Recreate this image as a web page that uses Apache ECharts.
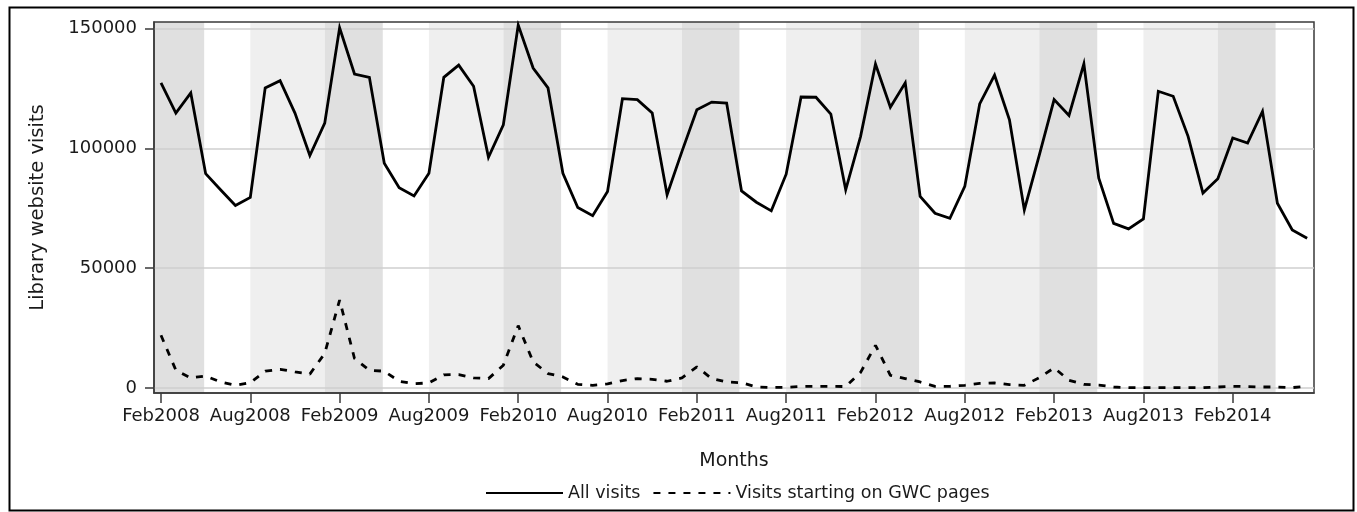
<!DOCTYPE html>
<html><head><meta charset="utf-8">
<script src="https://cdn.jsdelivr.net/npm/echarts@6/dist/echarts.min.js"></script>
<style>html,body{margin:0;padding:0;background:#fff}#c{width:1357px;height:512px}</style>
</head><body><div id="c"></div>
<script>
// Month categories (index 0 = Feb2008)
const months = [
 'Feb2008','Mar2008','Apr2008','May2008','Jun2008','Jul2008','Aug2008','Sep2008','Oct2008','Nov2008','Dec2008',
 'Jan2009','Feb2009','Mar2009','Apr2009','May2009','Jun2009','Jul2009','Aug2009','Sep2009','Oct2009','Nov2009','Dec2009',
 'Jan2010','Feb2010','Mar2010','Apr2010','May2010','Jun2010','Jul2010','Aug2010','Sep2010','Oct2010','Nov2010','Dec2010',
 'Jan2011','Feb2011','Mar2011','Apr2011','May2011','Jun2011','Jul2011','Aug2011','Sep2011','Oct2011','Nov2011','Dec2011',
 'Jan2012','Feb2012','Mar2012','Apr2012','May2012','Jun2012','Jul2012','Aug2012','Sep2012','Oct2012','Nov2012','Dec2012',
 'Jan2013','Feb2013','Mar2013','Apr2013','May2013','Jun2013','Jul2013','Aug2013','Sep2013','Oct2013','Nov2013','Dec2013',
 'Jan2014','Feb2014','Mar2014','Apr2014','May2014','Jun2014','Jul2014'
];
const allVisits = [
 127300,114700,123100,89400,82700,76100,79500,125200,128200,114700,97000,
 110500,150300,131000,129600,93800,83600,80100,89600,129600,134700,125900,96200,
 109800,151400,133500,125200,89600,75300,71900,82000,120700,120300,114700,80600,
 98700,116100,119300,118900,82200,77500,73900,89200,121400,121300,114300,82700,
 105000,135200,117100,127300,79900,72900,70800,84100,118500,130500,111900,74300,
 97000,120300,113700,135200,87500,68700,66400,70500,123800,121700,105000,81300,
 87300,104300,102200,115400,77100,65900,62500
];
const gwcVisits = [
 22000,7400,4200,5000,2500,1100,2200,7000,7800,6700,5800,
 14400,36700,12300,7400,7000,2800,1800,2100,5500,5600,4200,3900,
 9500,26000,10900,6000,4600,1500,1100,1700,3100,3900,3600,2800,
 4200,8800,3900,2500,2200,400,200,300,600,700,700,600,
 6500,17800,5300,3900,2500,700,700,1100,1900,2100,1400,1100,
 4300,8400,3200,1500,1200,400,150,150,150,150,150,150,
 400,700,600,400,400,150,700
];
const tickLabels = ['Feb2008','Aug2008','Feb2009','Aug2009','Feb2010','Aug2010','Feb2011','Aug2011','Feb2012','Aug2012','Feb2013','Aug2013','Feb2014'];
const yTicks = [0, 50000, 100000, 150000];
// Semester bands in month-index units (start, end, kind)
const bandStart = [-1, 6, 11, 18, 23, 30, 35, 42, 47, 54, 59, 66, 71];
const bandEnd   = [2.9, 11, 14.9, 23, 26.88, 35, 38.86, 47, 50.93, 59, 62.9, 71, 74.88];
const bandKind  = ['spring','fall','spring','fall','spring','fall','spring','fall','spring','fall','spring','fall','spring'];

const FONT = 'DejaVu Sans';
const TXT = '#1a1a1a';
const AX = '#3a3a3a';
const tickIdx = tickLabels.map(l => months.indexOf(l));
const bandColor = {spring: '#e0e0e0', fall: '#efefef'};

const chart = echarts.init(document.getElementById('c'), null, {renderer: 'canvas'});
chart.setOption({
  animation: false,
  backgroundColor: '#ffffff',
  textStyle: {fontFamily: FONT},
  grid: {left: 154, right: 43, top: 22, bottom: 119, show: true, borderColor: AX, borderWidth: 1.5,
         backgroundColor: 'transparent', outerBoundsMode: 'none', containLabel: false},
  xAxis: {
    type: 'value', min: -0.47, max: 77.46,
    name: 'Months', nameLocation: 'middle', nameGap: 59,
    nameTextStyle: {fontSize: 19, color: TXT, fontFamily: FONT},
    axisLine: {show: true, onZero: false, lineStyle: {color: AX, width: 1.5}},
    axisTick: {show: true, customValues: tickIdx, length: 10, lineStyle: {color: AX, width: 1.5}},
    axisLabel: {customValues: tickIdx, formatter: v => months[Math.round(v)], fontSize: 18, color: TXT, margin: 14, fontFamily: FONT},
    splitLine: {show: false}
  },
  yAxis: {
    type: 'value', min: -2100, max: 152700,
    name: 'Library website visits', nameLocation: 'middle', nameGap: 106,
    nameTextStyle: {fontSize: 19.5, color: TXT, fontFamily: FONT},
    axisLine: {show: true, onZero: false, lineStyle: {color: AX, width: 1.5}},
    axisTick: {show: true, customValues: yTicks, length: 9, lineStyle: {color: AX, width: 1.5}},
    axisLabel: {customValues: yTicks, formatter: v => String(v), fontSize: 18, color: TXT, margin: 17, fontFamily: FONT},
    splitLine: {show: true, lineStyle: {color: '#cfcfcf', width: 1.5}}
  },
  legend: {
    show: true, left: 480, top: 479, itemWidth: 77, itemHeight: 14, itemGap: 12,
    itemStyle: {opacity: 0},
    textStyle: {fontSize: 17.5, color: TXT, fontFamily: FONT},
    data: ['All visits', 'Visits starting on GWC pages']
  },
  graphic: [{
    type: 'rect', left: 7, top: 5, z: 100, silent: true,
    shape: {width: 1344, height: 503},
    style: {fill: 'none', stroke: '#000', lineWidth: 2}
  }],
  series: [
    {
      name: 'bands', type: 'line', data: [], silent: true,
      markArea: {
        silent: true, z: -1,
        data: bandStart.map((s, i) => [
          {xAxis: s, itemStyle: {color: bandColor[bandKind[i]]}},
          {xAxis: bandEnd[i]}
        ])
      }
    },
    {
      name: 'All visits', type: 'line', symbol: 'none', z: 5,
      data: allVisits.map((v, i) => [i, v]),
      lineStyle: {color: '#000', width: 2.8, join: 'miter'},
      itemStyle: {color: '#000'}
    },
    {
      name: 'Visits starting on GWC pages', type: 'line', symbol: 'none', z: 5,
      data: gwcVisits.map((v, i) => [i, v]),
      lineStyle: {color: '#000', width: 2.8, type: [7, 8]},
      itemStyle: {color: '#000'}
    }
  ]
});
</script></body></html>
